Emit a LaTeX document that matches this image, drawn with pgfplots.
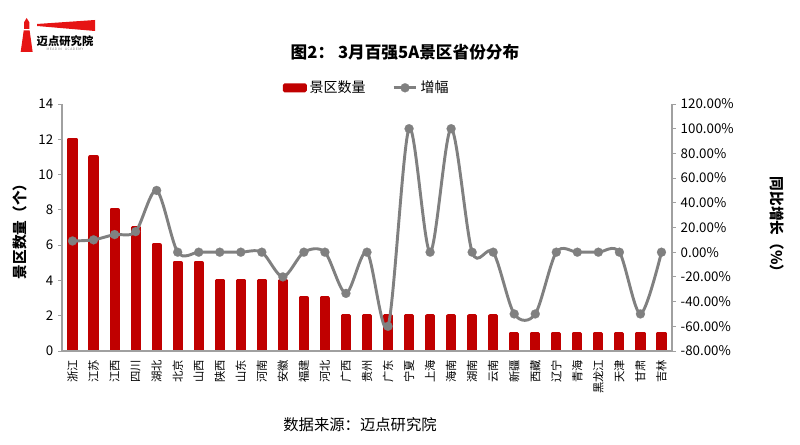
\documentclass[border=0pt]{standalone}
\usepackage{fontspec}
\setmainfont{Noto Sans CJK SC}
\usepackage{pgfplots}
\pgfplotsset{compat=1.18}
\definecolor{barred}{RGB}{192,0,0}
\definecolor{logored}{RGB}{230,20,20}
\definecolor{lgray}{RGB}{128,128,128}
\definecolor{axgray}{RGB}{160,160,160}
\begin{document}
\begin{tikzpicture}
\useasboundingbox (0pt,0pt) rectangle (600pt,333.75pt);
% logo
\fill[logored] (15.5pt,294.75pt) -- (24.5pt,294.75pt) -- (22.2pt,311pt) -- (17.8pt,311pt) -- cycle;
\fill[logored] (18pt,312pt) -- (22pt,312pt) -- (22pt,317pt) -- (20pt,320.25pt) -- (18pt,317pt) -- cycle;
\fill[logored] (27.75pt,315.75pt) -- (71.25pt,318.75pt) -- (71.25pt,310.5pt) -- (27.75pt,314.25pt) -- cycle;
\node[inner sep=0pt,font=\fontsize{8.5}{9}\selectfont\bfseries] at (48.75pt,302.5pt) {迈点研究院};
\node[inner sep=0pt,text=gray,font=\fontsize{2.5}{3}\selectfont] at (48.75pt,296.5pt) {M\,E\,A\,D\,I\,N\quad A\,C\,A\,D\,E\,M\,Y};
% title
\node[font=\fontsize{12.5}{13}\selectfont\bfseries] at (303.75pt,294.75pt) {图2： 3月百强5A景区省份分布};
% source
\node[font=\fontsize{11.5}{12}\selectfont] at (270pt,15pt) {数据来源：迈点研究院};
% axis labels
\node[rotate=90,font=\fontsize{11}{12}\selectfont\bfseries] at (15pt,162.75pt) {景区数量（个）};
\node[rotate=-90,font=\fontsize{11}{12}\selectfont\bfseries] at (583pt,162.75pt) {同比增长（\%）};
\begin{axis}[
  at={(46.5pt,70.5pt)}, anchor=south west,
  scale only axis, width=457.5pt, height=185.25pt,
  xmin=-0.5, xmax=28.5, ymin=0, ymax=14,
  ytick={0,2,...,14},
  xtick={0,...,28},
  xticklabels={浙江,江苏,江西,四川,湖北,北京,山西,陕西,山东,河南,安徽,福建,河北,广西,贵州,广东,宁夏,上海,海南,湖南,云南,新疆,西藏,辽宁,青海,黑龙江,天津,甘肃,吉林},
  x tick label style={rotate=90,anchor=east,font=\fontsize{8.5}{9}\selectfont},
  y tick label style={font=\fontsize{10}{10}\selectfont},
  /pgf/number format/assume math mode=true,
  axis line style={draw=none},
  ytick pos=left, xtick pos=bottom,
  major tick length=3pt,
  xtick style={draw=none},
  ytick style={axgray,line width=0.6pt},
  tick align=outside,
  ybar, bar width=5pt,
  clip=true,
]
\addplot[fill=barred,draw=barred,line width=2.6pt,line join=round] coordinates {
(0,12)(1,11)(2,8)(3,7)(4,6)(5,5)(6,5)(7,4)(8,4)(9,4)(10,4)(11,3)(12,3)(13,2)(14,2)(15,2)(16,2)(17,2)(18,2)(19,2)(20,2)(21,1)(22,1)(23,1)(24,1)(25,1)(26,1)(27,1)(28,1)};
\end{axis}
\begin{axis}[
  at={(46.5pt,70.5pt)}, anchor=south west,
  scale only axis, width=457.5pt, height=185.25pt,
  xmin=-0.5, xmax=28.5, ymin=-80, ymax=120,
  ytick={-80,-60,...,120},
  xtick=\empty,
  yticklabel={\pgfmathprintnumber[fixed,fixed zerofill,precision=2,assume math mode=true]{\tick}\%},
  y tick label style={font=\fontsize{10}{10}\selectfont},
  axis line style={draw=none},
  ytick pos=right,
  major tick length=3pt,
  ytick style={axgray,line width=0.6pt},
  tick align=outside,
  clip=false,
  legend style={at={(0.5,1.015)},anchor=south,draw=none,fill=none,legend columns=2,
    font=\fontsize{10.5}{11}\selectfont,/tikz/every even column/.append style={column sep=18pt}},
  legend cell align=left,
]
\draw[axgray,line width=0.8pt] (rel axis cs:0,1) -- (rel axis cs:0,0) -- (rel axis cs:1,0) -- (rel axis cs:1,1);
\addlegendimage{area legend,fill=barred,draw=barred,line width=1pt,rounded corners=1pt}
\addlegendentry{景区数量}
\addplot[lgray,line width=2.2pt,smooth,tension=0.5,mark=*,mark size=3.4pt,mark options={fill=lgray,draw=lgray,line width=0.1pt}] coordinates {
(0,9.09)(1,10)(2,14.29)(3,16.67)(4,50)(5,0)(6,0)(7,0)(8,0)(9,0)(10,-20)(11,0)(12,0)(13,-33.33)(14,0)(15,-60)(16,100)(17,0)(18,100)(19,0)(20,0)(21,-50)(22,-50)(23,0)(24,0)(25,0)(26,0)(27,-50)(28,0)};
\addlegendentry{增幅}
\end{axis}
\end{tikzpicture}
\end{document}
